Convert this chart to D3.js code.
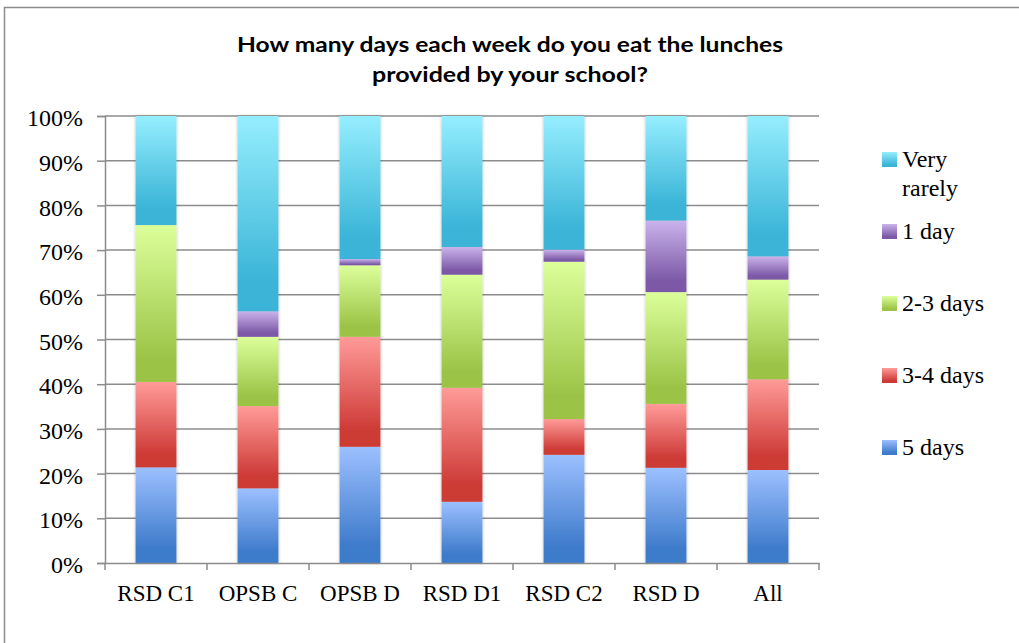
<!DOCTYPE html>
<html>
<head>
<meta charset="utf-8">
<script src="https://cdn.jsdelivr.net/npm/d3@7"></script>
<style>
  body { margin: 0; background: #fff; }
  svg { display: block; }
</style>
</head>
<body>
<svg id="chart"></svg>
<script>
// chart data (percent of answers)
const categories = ["RSD C1", "OPSB C", "OPSB D", "RSD D1", "RSD C2", "RSD D", "All"];
const seriesNames = ["5 days", "3-4 days", "2-3 days", "1 day", "Very rarely"];
const fiveDays   = [21.4, 16.7, 26.0, 13.7, 24.2, 21.3, 20.8];
const threeFour  = [19.1, 18.4, 24.6, 25.5,  8.0, 14.3, 20.3];
const twoThree   = [35.1, 15.5, 16.0, 25.3, 35.2, 25.0, 22.3];
const oneDay     = [ 0.0,  5.7,  1.4,  6.2,  2.7, 16.0,  5.2];
const veryRarely = [24.4, 43.7, 32.0, 29.3, 29.9, 23.4, 31.4];
const yTicks = [0, 10, 20, 30, 40, 50, 60, 70, 80, 90, 100];
const title = ["How many days each week do you eat the lunches", "provided by your school?"];

const width = 1019, height = 643;
const margin = {top: 116, left: 105};
const plotW = 714, plotH = 447;

const svg = d3.select("#chart").attr("width", width).attr("height", height);

// light -> dark gradient for each series
const grads = [
  ["#9cc0ff", "#3e7bcb"],
  ["#ff9b98", "#cd3a36"],
  ["#dcff9a", "#9bc447"],
  ["#cab3eb", "#7b58a6"],
  ["#95eefe", "#3ab4d7"]
];
const defs = svg.append("defs");
grads.forEach((g, i) => {
  const lg = defs.append("linearGradient")
    .attr("id", "g" + i)
    .attr("x1", 0).attr("y1", 0).attr("x2", 0).attr("y2", 1);
  lg.append("stop").attr("offset", 0).attr("stop-color", g[0]);
  lg.append("stop").attr("offset", 0.85).attr("stop-color", g[1]);
  lg.append("stop").attr("offset", 1).attr("stop-color", g[1]);
});
const shadow = defs.append("filter").attr("id", "shadow")
  .attr("x", "-20%").attr("y", "-5%").attr("width", "140%").attr("height", "110%");
shadow.append("feDropShadow").attr("dx", 0).attr("dy", 0)
  .attr("stdDeviation", 1.6).attr("flood-color", "#000").attr("flood-opacity", 0.3);

// outer frame
svg.append("rect")
  .attr("x", 4.5).attr("y", 7.5).attr("width", 1100).attr("height", 800)
  .attr("fill", "none").attr("stroke", "#8c8c8c").attr("stroke-width", 1.5);

// title
const titleWidths = [546, 276];
svg.append("text")
  .attr("text-anchor", "middle")
  .style("font-family", "Lato, 'Open Sans', sans-serif")
  .style("font-weight", "bold").style("font-size", "21px").attr("fill", "#000")
  .selectAll("tspan").data(title).enter().append("tspan")
  .attr("x", 510).attr("y", (d, i) => 52 + i * 30)
  .attr("textLength", (d, i) => titleWidths[i])
  .attr("lengthAdjust", "spacingAndGlyphs")
  .text(d => d);

const rows = categories.map((c, i) => ({
  cat: c,
  "5 days": fiveDays[i],
  "3-4 days": threeFour[i],
  "2-3 days": twoThree[i],
  "1 day": oneDay[i],
  "Very rarely": veryRarely[i]
}));

const x = d3.scaleBand().domain(categories).range([margin.left, margin.left + plotW]).paddingInner(0.6).paddingOuter(0.3);
const xb = d3.scaleBand().domain(categories).range([margin.left, margin.left + plotW]);
const y = d3.scaleLinear().domain([0, 100]).range([margin.top + plotH, margin.top]);

// gridlines
svg.append("g")
  .selectAll("line").data(yTicks.slice(1)).enter().append("line")
  .attr("x1", margin.left).attr("x2", margin.left + plotW)
  .attr("y1", d => y(d)).attr("y2", d => y(d))
  .attr("stroke", "#8c8c8c").attr("stroke-width", 1.5);

// stacked bars
const stacked = d3.stack().keys(seriesNames)(rows);
const bars = svg.append("g").attr("filter", "url(#shadow)");
stacked.forEach((layer, si) => {
  bars.append("g")
    .selectAll("rect").data(layer.filter(d => d[1] - d[0] > 0)).enter().append("rect")
    .attr("x", d => x(d.data.cat))
    .attr("width", x.bandwidth())
    .attr("y", d => y(d[1]))
    .attr("height", d => y(d[0]) - y(d[1]))
    .attr("fill", "url(#g" + si + ")");
});

// y axis
const yAxis = svg.append("g")
  .attr("transform", `translate(${margin.left},0)`)
  .call(d3.axisLeft(y).tickValues(yTicks).tickSize(8).tickPadding(14).tickFormat(d => d + "%"));
yAxis.select(".domain").attr("stroke", "#8c8c8c").attr("stroke-width", 1.5);
yAxis.selectAll(".tick line").attr("stroke", "#8c8c8c").attr("stroke-width", 1.5);
yAxis.selectAll(".tick text")
  .attr("dy", "0.4em")
  .style("font-family", "'Liberation Serif', serif").style("font-size", "24px").attr("fill", "#000");

// x axis
const xAxis = svg.append("g")
  .attr("transform", `translate(0,${margin.top + plotH})`)
  .call(d3.axisBottom(xb).tickSize(0).tickPadding(22).tickSizeOuter(0));
xAxis.select(".domain").attr("stroke", "#8c8c8c").attr("stroke-width", 1.5);
xAxis.selectAll(".tick text")
  .style("font-family", "'Liberation Serif', serif").style("font-size", "23px").attr("fill", "#000");
xAxis.selectAll(".sep").data(d3.range(categories.length + 1)).enter().append("line")
  .attr("class", "sep")
  .attr("x1", i => margin.left + i * xb.step()).attr("x2", i => margin.left + i * xb.step())
  .attr("y1", 0).attr("y2", 7)
  .attr("stroke", "#8c8c8c").attr("stroke-width", 1.5);

// legend (top to bottom: last series first)
const legendItems = seriesNames.slice().reverse().map((name, i) => ({
  lines: name === "Very rarely" ? ["Very", "rarely"] : [name],
  grad: seriesNames.length - 1 - i,
  i: i
}));
const legend = svg.append("g").attr("transform", "translate(882,167)");
const item = legend.selectAll("g").data(legendItems).enter().append("g")
  .attr("transform", d => `translate(0,${d.i * 72})`);
item.append("rect")
  .attr("x", 0).attr("y", -15).attr("width", 15).attr("height", 15)
  .attr("fill", d => `url(#g${d.grad})`);
item.append("text")
  .style("font-family", "'Liberation Serif', serif").style("font-size", "24px").attr("fill", "#000")
  .selectAll("tspan").data(d => d.lines).enter().append("tspan")
  .attr("x", 20).attr("y", (d, j) => j * 29)
  .text(d => d);
</script>
</body>
</html>
